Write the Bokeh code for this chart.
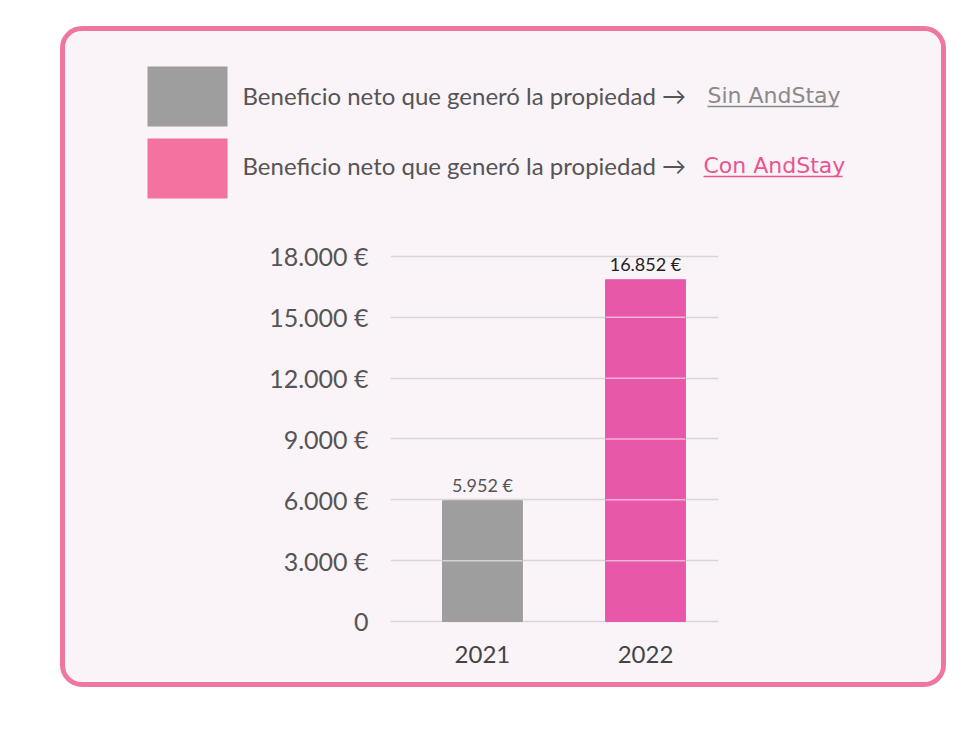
from bokeh.plotting import figure
from bokeh.layouts import column
from bokeh.models import ColumnDataSource, FixedTicker, Range1d, LabelSet
from bokeh.core.properties import value
from bokeh.embed import file_html
from bokeh.resources import INLINE

# data
years = ["2021", "2022"]
benefit = [5952, 16852]
benefit_labels = ["5.952 €", "16.852 €"]
bar_colors = ["#9e9e9e", "#e858a9"]
label_colors = ["#555555", "#222222"]
y_ticks = [0, 3000, 6000, 9000, 12000, 15000, 18000]
y_tick_labels = ["0", "3.000 €", "6.000 €", "9.000 €", "12.000 €", "15.000 €", "18.000 €"]
legend_text = "Beneficio neto que generó la propiedad →"
legend_links = ["Sin AndStay", "Con AndStay"]
legend_colors = ["#9e9e9e", "#f472a0"]
link_colors = ["#8a8a8a", "#e8558f"]

FONT = "Lato"
LINK_FONT = "DejaVu Sans"
BG = "#faf3f7"
PINK_BORDER = "#ee76a0"

# box (page pixels): outer edge 60..946 x 26..687, border 5px
BX0, BY0, BORDER = 60, 26, 5
IX0, IX1 = BX0 + BORDER, 946 - BORDER      # inner left/right
IY0, IY1 = BY0 + BORDER, 687 - BORDER      # inner top/bottom
SPLIT = 215                                 # legend / chart boundary
# chart frame edges in page pixels
FL, FR, FT, FB = 390, 718, 240, 624
INNER_W = IX1 - IX0

# ---- legend panel: pixel-like data space, y pointing down
leg = figure(width=INNER_W, height=SPLIT - IY0, output_backend="svg", toolbar_location=None,
             x_range=Range1d(IX0, IX1), y_range=Range1d(SPLIT, IY0),
             min_border=0, x_axis_location=None, y_axis_location=None)
leg.frame_align = False
leg.background_fill_color = BG
leg.border_fill_color = BG
leg.outline_line_color = None
leg.grid.visible = False

row_mid = [96, 168]
sq_left, sq_right, sq_h = 147, 227, 60
text_x = 242
text_mid = [95, 165]
link_x0 = [707, 703]
link_x1 = [838, 842]
underline_y = [106, 176]
leg.quad(left=[sq_left] * 2, right=[sq_right] * 2,
         top=[m - sq_h / 2 for m in row_mid], bottom=[m + sq_h / 2 for m in row_mid],
         fill_color=legend_colors, line_color=None)
leg.text(x=[text_x] * 2, y=text_mid, text=[legend_text] * 2, text_font=value(FONT),
         text_font_size="24px", text_color="#555555", text_baseline="middle")
leg.text(x=link_x0, y=text_mid, text=legend_links, text_font=value(LINK_FONT),
         text_font_size="22px", text_color=link_colors, text_baseline="middle")
leg.segment(x0=link_x0, x1=link_x1, y0=underline_y, y1=underline_y,
            line_color=link_colors, line_width=1.4)

# ---- bar chart
x = list(range(len(years)))
src = ColumnDataSource(dict(x=x, top=benefit, color=bar_colors,
                            lab=benefit_labels, lab_color=label_colors))

p = figure(width=INNER_W, height=IY1 - SPLIT, output_backend="svg", toolbar_location=None,
           x_range=Range1d(-0.564, 1.448), y_range=Range1d(-150, 18787),
           min_border_left=FL - IX0, min_border_right=IX1 - FR,
           min_border_top=FT - SPLIT, min_border_bottom=IY1 - FB)
p.frame_align = False
p.background_fill_color = BG
p.border_fill_color = BG
p.outline_line_color = None

p.vbar(x="x", top="top", width=0.49, color="color", source=src)

# light lines where the grid crosses the bars
gx0, gx1, gy = [], [], []
for xi, v in zip(x, benefit):
    for t in y_ticks:
        if 0 < t < v:
            gx0.append(xi - 0.245)
            gx1.append(xi + 0.245)
            gy.append(t)
p.segment(x0=gx0, x1=gx1, y0=gy, y1=gy, line_color="#ffffff", line_alpha=0.55, line_width=1.5)

p.add_layout(LabelSet(x="x", y="top", text="lab", source=src, text_color="lab_color",
                      text_font=value(FONT), text_font_size="18px", text_align="center",
                      text_baseline="bottom", y_offset=5))

p.ygrid.ticker = FixedTicker(ticks=y_ticks)
p.ygrid.grid_line_color = "#d9d6d9"
p.ygrid.grid_line_width = 1.5
p.xgrid.grid_line_color = None

p.yaxis.ticker = FixedTicker(ticks=y_ticks)
p.yaxis.major_label_overrides = dict(zip(y_ticks, y_tick_labels))
p.xaxis.ticker = FixedTicker(ticks=x)
p.xaxis.major_label_overrides = dict(zip(x, years))
for ax in (p.xaxis, p.yaxis):
    ax.axis_line_color = None
    ax.major_tick_line_color = None
    ax.minor_tick_line_color = None
    ax.major_label_text_font = FONT
p.yaxis.major_label_text_font_size = "25px"
p.xaxis.major_label_text_font_size = "24px"
p.yaxis.major_label_text_color = "#555555"
p.xaxis.major_label_text_color = "#444444"
p.yaxis.major_label_standoff = 16
p.xaxis.major_label_standoff = 15

layout = column(leg, p, styles={
    "margin-left": f"{BX0}px", "margin-top": f"{BY0}px",
    "border": f"{BORDER}px solid {PINK_BORDER}", "border-radius": "22px",
    "background-color": BG, "overflow": "hidden",
})

open("out.html", "w").write(file_html(layout, INLINE))
